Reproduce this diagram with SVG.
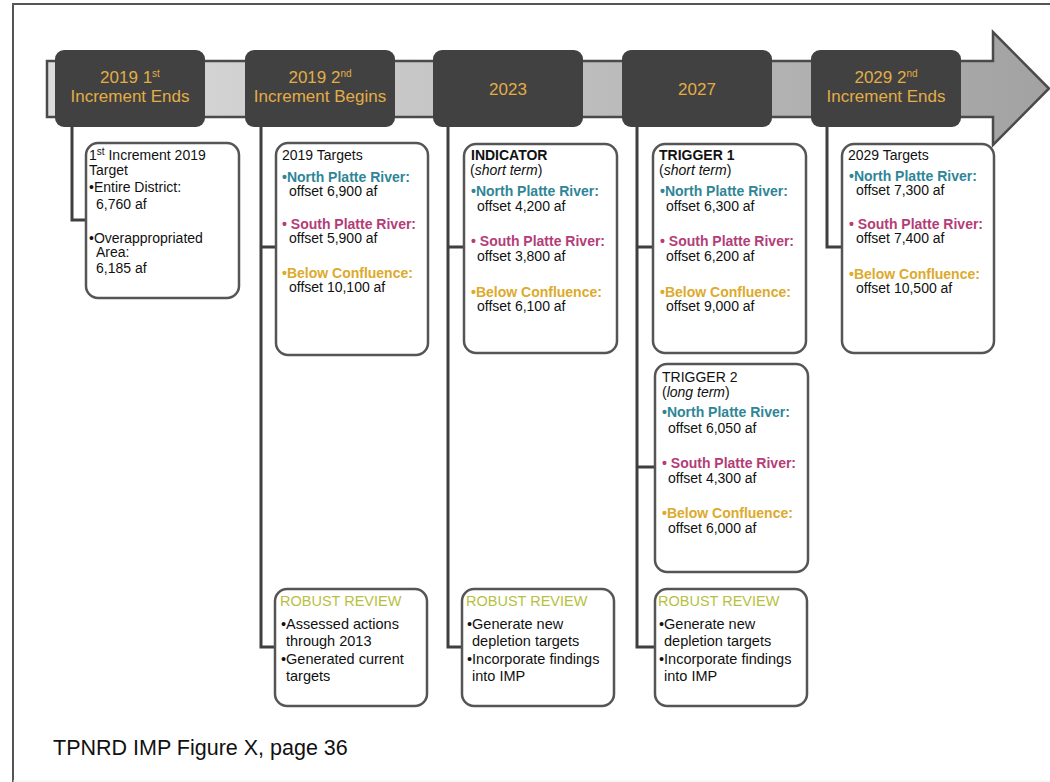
<svg xmlns="http://www.w3.org/2000/svg" width="1050" height="782" viewBox="0 0 1050 782">
<defs>
<linearGradient id="band" gradientUnits="userSpaceOnUse" x1="47" y1="0" x2="1049" y2="0">
<stop offset="0" stop-color="#dcdcdc"/>
<stop offset="1" stop-color="#a2a2a2"/>
</linearGradient>
<style>
text{font-family:"Liberation Sans",Arial,sans-serif;}
.hdr{fill:#414141;}
.ht{fill:#e2ad47;font-size:17px;text-anchor:middle;}
.box{fill:#fff;stroke:#555;stroke-width:2.5;}
.t{fill:#111;font-size:14px;}
.b{font-weight:bold;}
.np{fill:#2f8597;font-weight:bold;font-size:14px;}
.sp{fill:#b33d77;font-weight:bold;font-size:14px;}
.bc{fill:#dcaa2c;font-weight:bold;font-size:14px;}
.rr{fill:#b7bf3f;font-size:14.5px;}
.rt{fill:#111;font-size:14.5px;}
.conn{fill:none;stroke:#3f3f3f;stroke-width:3;}
.sup{font-size:10px;}
</style>
</defs>
<rect width="1050" height="782" fill="#fff"/>
<path d="M13,782 V4 H1050" fill="none" stroke="#555" stroke-width="2"/>
<line x1="13" y1="781" x2="1050" y2="781" stroke="#f0f0f0" stroke-width="1"/>

<g id="timeline">
<path d="M47,61 H993 V32 L1049,88.5 L993,145 V117 H47 Z" fill="url(#band)" stroke="#4a4a4a" stroke-width="2.5" stroke-linejoin="miter"/>
</g>

<g id="connectors">
<path class="conn" d="M72,127 V220 H86"/>
<path class="conn" d="M261,127 V647 H275 M261,247 H276"/>
<path class="conn" d="M448,127 V647 H462 M448,247 H464"/>
<path class="conn" d="M637,127 V647 H654 M637,247 H653 M637,467 H655"/>
<path class="conn" d="M827,127 V247 H843"/>
</g>

<g id="h2019a">
<rect class="hdr" x="55" y="50" width="150" height="77" rx="9"/>
<text class="ht" x="130" y="83">2019 1<tspan class="sup" dy="-6">st</tspan></text>
<text class="ht" x="130" y="102">Increment  Ends</text>
</g>
<g id="h2019b">
<rect class="hdr" x="245" y="50" width="150" height="77" rx="9"/>
<text class="ht" x="320" y="83">2019 2<tspan class="sup" dy="-6">nd</tspan></text>
<text class="ht" x="320" y="102">Increment  Begins</text>
</g>
<g id="h2023">
<rect class="hdr" x="433" y="50" width="150" height="77" rx="9"/>
<text class="ht" x="508" y="95">2023</text>
</g>
<g id="h2027">
<rect class="hdr" x="622" y="50" width="150" height="77" rx="9"/>
<text class="ht" x="697" y="95">2027</text>
</g>
<g id="h2029">
<rect class="hdr" x="811" y="50" width="150" height="77" rx="9"/>
<text class="ht" x="886" y="83">2029 2<tspan class="sup" dy="-6">nd</tspan></text>
<text class="ht" x="886" y="102">Increment  Ends</text>
</g>

<g id="box1">
<rect class="box" x="86" y="143" width="153" height="155" rx="12"/>
<text class="t" x="89" y="160">1<tspan class="sup" dy="-5">st</tspan><tspan dy="5"> Increment  2019</tspan></text>
<text class="t" x="89" y="175">Target</text>
<text class="t" x="89" y="192">•Entire District:</text>
<text class="t" x="96" y="209">6,760 af</text>
<text class="t" x="89" y="243">•Overappropriated</text>
<text class="t" x="96" y="257">Area:</text>
<text class="t" x="96" y="273">6,185 af</text>
</g>

<g id="box2">
<rect class="box" x="276" y="143" width="152" height="212" rx="12"/>
<text class="t" x="282" y="160">2019 Targets</text>
<text class="np" x="282" y="182">•North  Platte River:</text>
<text class="t" x="289" y="196">offset 6,900 af</text>
<text class="sp" x="282" y="229">• South  Platte River:</text>
<text class="t" x="289" y="243">offset 5,900 af</text>
<text class="bc" x="282" y="278">•Below Confluence:</text>
<text class="t" x="289" y="292">offset 10,100 af</text>
</g>

<g id="box3">
<rect class="box" x="464" y="144" width="153" height="209" rx="12"/>
<text class="t b" x="471" y="160">INDICATOR</text>
<text class="t" x="470" y="175">(<tspan font-style="italic">short  term</tspan>)</text>
<text class="np" x="471" y="196">•North  Platte River:</text>
<text class="t" x="477" y="211">offset 4,200 af</text>
<text class="sp" x="471" y="246">• South  Platte River:</text>
<text class="t" x="477" y="261">offset 3,800 af</text>
<text class="bc" x="471" y="297">•Below Confluence:</text>
<text class="t" x="477" y="311">offset 6,100 af</text>
</g>

<g id="box4">
<rect class="box" x="653" y="144" width="153" height="209" rx="12"/>
<text class="t b" x="659" y="160">TRIGGER 1</text>
<text class="t" x="659" y="175">(<tspan font-style="italic">short  term</tspan>)</text>
<text class="np" x="660" y="196">•North  Platte River:</text>
<text class="t" x="666" y="211">offset 6,300 af</text>
<text class="sp" x="660" y="246">• South  Platte River:</text>
<text class="t" x="666" y="261">offset 6,200 af</text>
<text class="bc" x="660" y="297">•Below Confluence:</text>
<text class="t" x="666" y="311">offset 9,000 af</text>
</g>

<g id="box5">
<rect class="box" x="842" y="144" width="152" height="209" rx="12"/>
<text class="t" x="848" y="160">2029 Targets</text>
<text class="np" x="849" y="181">•North  Platte River:</text>
<text class="t" x="856" y="195">offset 7,300 af</text>
<text class="sp" x="849" y="229">• South  Platte River:</text>
<text class="t" x="856" y="243">offset 7,400 af</text>
<text class="bc" x="849" y="279">•Below Confluence:</text>
<text class="t" x="856" y="293">offset 10,500 af</text>
</g>

<g id="box6">
<rect class="box" x="655" y="364" width="153" height="208" rx="12"/>
<text class="t" x="662" y="382">TRIGGER 2</text>
<text class="t" x="662" y="397">(<tspan font-style="italic">long  term</tspan>)</text>
<text class="np" x="662" y="417">•North  Platte River:</text>
<text class="t" x="668" y="433">offset 6,050 af</text>
<text class="sp" x="662" y="468">• South  Platte River:</text>
<text class="t" x="668" y="483">offset 4,300 af</text>
<text class="bc" x="662" y="518">•Below Confluence:</text>
<text class="t" x="668" y="533">offset 6,000 af</text>
</g>

<g id="rr1">
<rect class="box" x="275" y="589" width="152" height="117" rx="12"/>
<text class="rr" x="280" y="606">ROBUST  REVIEW</text>
<text class="rt" x="281" y="629">•Assessed actions</text>
<text class="rt" x="286" y="646">through 2013</text>
<text class="rt" x="281" y="664">•Generated  current</text>
<text class="rt" x="286" y="681">targets</text>
</g>
<g id="rr2">
<rect class="box" x="462" y="589" width="152" height="117" rx="12"/>
<text class="rr" x="466" y="606">ROBUST  REVIEW</text>
<text class="rt" x="467" y="629">•Generate  new</text>
<text class="rt" x="472" y="646">depletion  targets</text>
<text class="rt" x="467" y="664">•Incorporate  findings</text>
<text class="rt" x="472" y="681">into IMP</text>
</g>
<g id="rr3">
<rect class="box" x="655" y="589" width="152" height="117" rx="12"/>
<text class="rr" x="658" y="606">ROBUST  REVIEW</text>
<text class="rt" x="659" y="629">•Generate  new</text>
<text class="rt" x="664" y="646">depletion  targets</text>
<text class="rt" x="659" y="664">•Incorporate  findings</text>
<text class="rt" x="664" y="681">into IMP</text>
</g>

<text x="53" y="755" font-size="21.5" fill="#111">TPNRD IMP Figure X, page 36</text>
</svg>
